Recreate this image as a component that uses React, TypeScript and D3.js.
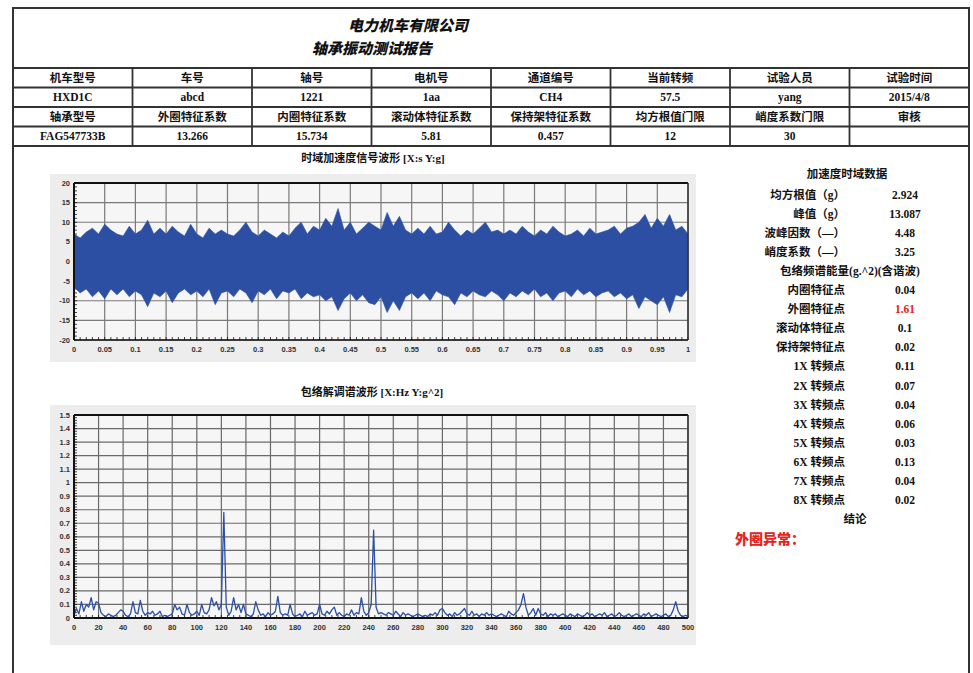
import React from 'react';
import * as d3 from 'd3';

// report header table
const headRow1 = ['机车型号', '车号', '轴号', '电机号', '通道编号', '当前转频', '试验人员', '试验时间'];
const valueRow1 = ['HXD1C', 'abcd', '1221', '1aa', 'CH4', '57.5', 'yang', '2015/4/8'];
const headRow2 = ['轴承型号', '外圈特征系数', '内圈特征系数', '滚动体特征系数', '保持架特征系数', '均方根值门限', '峭度系数门限', '审核'];
const valueRow2 = ['FAG547733B', '13.266', '15.734', '5.81', '0.457', '12', '30', ''];

// right side statistics
const statLabels = ['均方根值（g）', '峰值（g）', '波峰因数（—）', '峭度系数（—）'];
const statValues = ['2.924', '13.087', '4.48', '3.25'];
const featLabels = ['内圈特征点', '外圈特征点', '滚动体特征点', '保持架特征点',
  '1X 转频点', '2X 转频点', '3X 转频点', '4X 转频点', '5X 转频点', '6X 转频点', '7X 转频点', '8X 转频点'];
const featValues = ['0.04', '1.61', '0.1', '0.02', '0.11', '0.07', '0.04', '0.06', '0.03', '0.13', '0.04', '0.02'];

// time signal envelope, one value every 0.01 s
const timeUpper = [
  7, 6, 7.5, 8.5, 7, 9.5, 8, 7, 6.5, 9,
  7, 8, 10.5, 7, 8.5, 7, 9, 7.5, 6.5, 9.5,
  7, 6, 8.5, 7, 8, 7, 6.5, 8, 10, 7.5,
  6.5, 8, 7, 6, 7.5, 6.5, 8.5, 10, 7, 9,
  8, 11, 9, 13.5, 8, 10, 7, 8.5, 10, 9,
  8, 12.5, 9, 11.5, 8, 7, 8.5, 7, 9, 7,
  7.5, 10, 8, 6.5, 8, 7, 8.5, 10, 7.5, 8,
  7, 8, 7, 9, 7.5, 6.5, 8, 7, 9, 7.5,
  6.5, 7, 8, 6.5, 8.5, 7, 7.5, 8, 9, 7,
  8.5, 9, 10, 12, 8.5, 11, 9, 12, 8, 9,
  7,
];
const timeLower = [
  -6.5, -8, -7, -9, -7.5, -9.5, -7, -8.5, -7, -9,
  -7.5, -8.5, -11.5, -8, -9, -7.5, -10.5, -8, -7, -8.5,
  -7.5, -9, -7, -11, -8, -7.5, -9, -7, -8, -10.5,
  -7.5, -8.5, -7, -9.5, -7.5, -8, -7, -9.5, -8, -9,
  -8.5, -10, -9, -12.5, -9.5, -8, -10, -8.5, -10.5, -11,
  -9, -13, -10, -12.5, -9, -8, -9.5, -8, -10, -7.5,
  -8.5, -9, -11, -8, -9, -7.5, -8.5, -9, -7.5, -8.5,
  -10, -8, -9, -7.5, -8.5, -7, -9, -8, -10, -8,
  -7.5, -9, -7, -8.5, -7.5, -9, -8, -7.5, -9, -8,
  -9.5, -8.5, -12, -9, -10, -11, -9, -13, -8.5, -9,
  -7,
];

// envelope spectrum, one value every 2 Hz from 0 to 500 Hz
const specAmp = [
  0.02, 0.07, 0.03, 0.12, 0.05, 0.1, 0.08, 0.15, 0.06, 0.12,
  0.11, 0.04, 0.02, 0.01, 0.03, 0.02, 0.01, 0.02, 0.04, 0.06,
  0.05, 0.02, 0.01, 0.03, 0.12, 0.04, 0.03, 0.13, 0.05, 0.02,
  0.04, 0.03, 0.05, 0.02, 0.03, 0.05, 0.01, 0.02, 0.01, 0.02,
  0.03, 0.1, 0.06, 0.08, 0.03, 0.02, 0.1, 0.04, 0.02, 0.03,
  0.05, 0.02, 0.1, 0.04, 0.03, 0.06, 0.15, 0.09, 0.12, 0.06,
  0.1, 0.78, 0.08, 0.02, 0.05, 0.15, 0.06, 0.1, 0.04, 0.1,
  0.03, 0.02, 0.01, 0.03, 0.12, 0.06, 0.02, 0.03, 0.01, 0.04,
  0.02, 0.03, 0.05, 0.16, 0.04, 0.02, 0.03, 0.02, 0.1, 0.03,
  0.01, 0.02, 0.03, 0.01, 0.05, 0.02, 0.03, 0.04, 0.02, 0.03,
  0.1, 0.03, 0.02, 0.05, 0.03, 0.06, 0.08, 0.02, 0.04, 0.02,
  0.01, 0.03, 0.02, 0.06, 0.02, 0.04, 0.03, 0.15, 0.05, 0.02,
  0.04, 0.1, 0.65, 0.08, 0.03, 0.04, 0.03, 0.02, 0.04, 0.03,
  0.02, 0.05, 0.03, 0.01, 0.04, 0.02, 0.03, 0.02, 0.01, 0.02,
  0.03, 0.02, 0.01, 0.02, 0.01, 0.03, 0.02, 0.04, 0.02, 0.06,
  0.07, 0.04, 0.02, 0.03, 0.01, 0.04, 0.02, 0.03, 0.05, 0.07,
  0.03, 0.02, 0.05, 0.02, 0.03, 0.01, 0.03, 0.02, 0.04, 0.02,
  0.03, 0.02, 0.01, 0.02, 0.03, 0.02, 0.01, 0.05, 0.03, 0.02,
  0.04, 0.06, 0.1, 0.18, 0.08, 0.02, 0.04, 0.07, 0.02, 0.07,
  0.03, 0.02, 0.04, 0.01, 0.03, 0.02, 0.03, 0.01, 0.02, 0.03,
  0.02, 0.01, 0.03, 0.02, 0.01, 0.03, 0.02, 0.01, 0.02, 0.04,
  0.02, 0.03, 0.01, 0.02, 0.03, 0.02, 0.04, 0.01, 0.02, 0.03,
  0.01, 0.02, 0.04, 0.02, 0.01, 0.02, 0.03, 0.01, 0.02, 0.03,
  0.02, 0.01, 0.03, 0.02, 0.04, 0.01, 0.02, 0.03, 0.02, 0.01,
  0.02, 0.03, 0.01, 0.02, 0.06, 0.12, 0.05, 0.02, 0.01, 0.02,
  0.01,
];

const FONT = "'Liberation Serif', 'Noto Sans CJK SC', serif";
const BLUE = '#2c4fa3';
const RED = '#e3231c';

const Axes = ({ x, y, xTicks, yTicks, xMinor, yMinor, xFmt, yFmt, gridColor }) => {
  const [x0, x1] = x.range();
  const [y0, y1] = y.range();
  return (
    <g>
      {xTicks.map((t, i) => (
        <line key={'gx' + i} x1={x(t)} x2={x(t)} y1={y0} y2={y1} stroke={gridColor} strokeWidth={1.2} />
      ))}
      {yTicks.map((t, i) => (
        <line key={'gy' + i} x1={x0} x2={x1} y1={y(t)} y2={y(t)} stroke={gridColor} strokeWidth={1.2} />
      ))}
      {yMinor.map((t, i) => (
        <line key={'my' + i} x1={x0} x2={x0 + 3} y1={y(t)} y2={y(t)} stroke="#111" strokeWidth={0.8} />
      ))}
      {xMinor.map((t, i) => (
        <line key={'mx' + i} x1={x(t)} x2={x(t)} y1={y0} y2={y0 - 3} stroke="#111" strokeWidth={0.8} />
      ))}
      {yTicks.map((t, i) => (
        <text key={'ly' + i} x={x0 - 4} y={y(t) + 2.5} textAnchor="end" fontSize={7.5} fill="#333"
          fontFamily="'Liberation Sans', sans-serif" fontWeight={700}>{yFmt(t)}</text>
      ))}
      {xTicks.map((t, i) => (
        <text key={'lx' + i} x={x(t)} y={y0 + 12} textAnchor="middle" fontSize={7.5} fill="#333"
          fontFamily="'Liberation Sans', sans-serif" fontWeight={700}>{xFmt(t)}</text>
      ))}
    </g>
  );
};

export default function App() {
  // table geometry
  const colX = d3.scaleLinear().domain([0, 8]).range([13, 969]);
  const rowY = d3.scaleLinear().domain([0, 4]).range([68, 146]);
  const tableRows = [headRow1, valueRow1, headRow2, valueRow2];

  // time plot
  const tx = d3.scaleLinear().domain([0, 1]).range([74, 688]);
  const ty = d3.scaleLinear().domain([-20, 20]).range([340, 183]);
  const timeData = timeUpper.map((hi, i) => ({ t: i * 0.01, hi, lo: timeLower[i] }));
  const timeArea = d3.area().x(d => tx(d.t)).y0(d => ty(d.lo)).y1(d => ty(d.hi));

  // spectrum plot
  const sx = d3.scaleLinear().domain([0, 500]).range([74, 688]);
  const sy = d3.scaleLinear().domain([0, 1.5]).range([618, 415]);
  const specData = specAmp.map((v, i) => [i * 2, v]);
  const specLine = d3.line().x(d => sx(d[0])).y(d => sy(d[1]));

  const rightLabelX = 845;
  const rightValueX = 905;
  const rightRow = (i) => 195 + i * 19.05;

  return (
    <svg width={973} height={673} style={{ position: 'absolute', left: 0, top: 0, background: '#fff' }}
      fontFamily={FONT}>
      <rect x={0} y={0} width={973} height={673} fill="#fff" />
      {/* outer frame */}
      <path d="M13,690 V8 H969 V690" fill="none" stroke="#333" strokeWidth={2} />

      {/* titles */}
      <text x={408} y={31} textAnchor="middle" fontSize={15} fontWeight={900} fontStyle="italic"
        fontFamily="'Noto Sans CJK SC', sans-serif" fill="#111">电力机车有限公司</text>
      <text x={372} y={54} textAnchor="middle" fontSize={15} fontWeight={900} fontStyle="italic"
        fontFamily="'Noto Sans CJK SC', sans-serif" fill="#111">轴承振动测试报告</text>

      {/* table */}
      {d3.range(5).map(r => (
        <line key={'tr' + r} x1={13} x2={969} y1={rowY(r)} y2={rowY(r)} stroke="#333" strokeWidth={2} />
      ))}
      {d3.range(1, 8).map(c => (
        <line key={'tc' + c} x1={colX(c)} x2={colX(c)} y1={rowY(0)} y2={rowY(4)} stroke="#333" strokeWidth={1.8} />
      ))}
      {tableRows.map((row, r) => row.map((cell, c) => (
        <text key={`cell${r}-${c}`} x={(colX(c) + colX(c + 1)) / 2} y={(rowY(r) + rowY(r + 1)) / 2 + 4}
          textAnchor="middle" fontSize={11.5} fontWeight={700} fill="#111">{cell}</text>
      )))}

      {/* time domain chart */}
      <text x={373} y={162} textAnchor="middle" fontSize={11} fontWeight={700} fill="#111">时域加速度信号波形 [X:s Y:g]</text>
      <rect x={50} y={174} width={646} height={188} fill="#ededed" />
      <rect x={74} y={183} width={614} height={157} fill="#f6f6f6" />
      <Axes x={tx} y={ty} xTicks={d3.range(0, 1.0001, 0.05)} yTicks={d3.range(-20, 21, 5)}
        xMinor={d3.range(0, 1.0001, 0.01)} yMinor={d3.range(-20, 21, 1)}
        xFmt={t => d3.format('~g')(+t.toFixed(2))} yFmt={t => String(t)} gridColor="#7a7a7a" />
      <path d={timeArea(timeData)} fill={BLUE} stroke={BLUE} strokeWidth={0.6} />
      <line x1={74} x2={74} y1={183} y2={340} stroke="#111" strokeWidth={2} />
      <line x1={74} x2={688} y1={340} y2={340} stroke="#111" strokeWidth={1.5} />
      <line x1={74} x2={688} y1={183} y2={183} stroke="#111" strokeWidth={2} />
      <line x1={688} x2={688} y1={183} y2={340} stroke="#333" strokeWidth={1.5} />

      {/* envelope spectrum chart */}
      <text x={372} y={396} textAnchor="middle" fontSize={11} fontWeight={700} fill="#111">包络解调谱波形 [X:Hz Y:g^2]</text>
      <rect x={50} y={405} width={646} height={240} fill="#ededed" />
      <rect x={74} y={415} width={614} height={203} fill="#f6f6f6" />
      <Axes x={sx} y={sy} xTicks={d3.range(0, 501, 20)} yTicks={d3.range(0, 15.5, 1).map(v => v / 10)}
        xMinor={d3.range(0, 501, 5)} yMinor={d3.range(0, 75.5, 1).map(v => v / 50)}
        xFmt={t => String(t)} yFmt={t => String(t)} gridColor="#6a6a6a" />
      <path d={specLine(specData)} fill="none" stroke={BLUE} strokeWidth={1.3} strokeLinejoin="round" />
      <line x1={74} x2={74} y1={415} y2={618} stroke="#111" strokeWidth={2} />
      <line x1={74} x2={688} y1={618} y2={618} stroke="#111" strokeWidth={2} />
      <line x1={74} x2={688} y1={415} y2={415} stroke="#111" strokeWidth={2} />
      <line x1={688} x2={688} y1={415} y2={618} stroke="#333" strokeWidth={1.5} />

      {/* right side data */}
      <text x={847} y={178} textAnchor="middle" fontSize={11.5} fontWeight={700} fill="#111">加速度时域数据</text>
      {statLabels.map((l, i) => (
        <g key={'st' + i}>
          <text x={rightLabelX} y={rightRow(i) + 4} textAnchor="end" fontSize={11.5} fontWeight={700} fill="#111">{l}</text>
          <text x={rightValueX} y={rightRow(i) + 4} textAnchor="middle" fontSize={11.5} fontWeight={700} fill="#111">{statValues[i]}</text>
        </g>
      ))}
      <text x={850} y={rightRow(4) + 4} textAnchor="middle" fontSize={11.5} fontWeight={700} fill="#111">包络频谱能量(g.^2)(含谐波)</text>
      {featLabels.map((l, i) => (
        <g key={'ft' + i}>
          <text x={rightLabelX} y={rightRow(i + 5) + 4} textAnchor="end" fontSize={11.5} fontWeight={700} fill="#111">{l}</text>
          <text x={rightValueX} y={rightRow(i + 5) + 4} textAnchor="middle" fontSize={11.5} fontWeight={700}
            fill={i === 1 ? RED : '#111'}>{featValues[i]}</text>
        </g>
      ))}
      <text x={855} y={rightRow(17) + 4} textAnchor="middle" fontSize={11.5} fontWeight={700} fill="#111">结论</text>
      <text x={735} y={rightRow(18) + 6} fontSize={14} fontWeight={900} fill={RED}
        fontFamily="'Noto Sans CJK SC', sans-serif">外圈异常：</text>
    </svg>
  );
}
